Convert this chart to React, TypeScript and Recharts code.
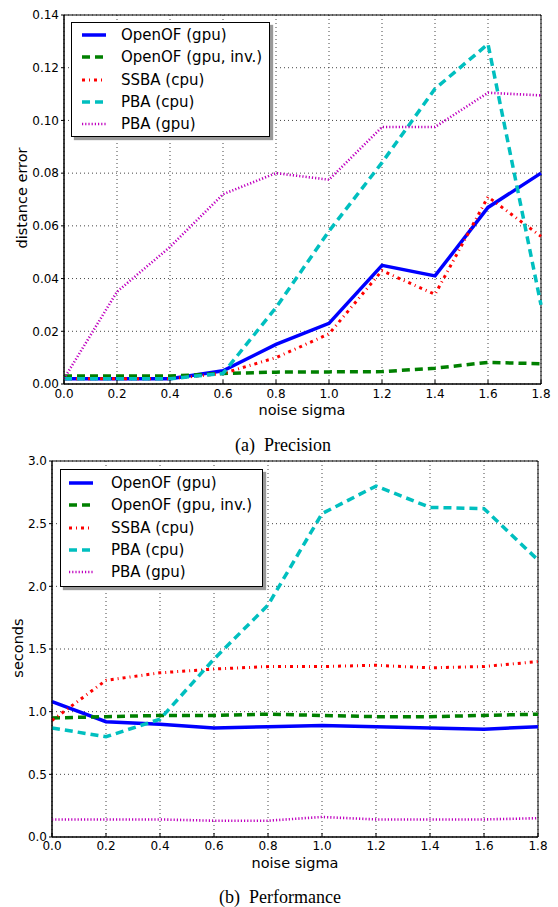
import React from 'react';
import { LineChart, Line, XAxis, YAxis, CartesianGrid, ReferenceArea } from 'recharts';

// noise sigma values shared by both panels
const sigma = [0, 0.2, 0.4, 0.6, 0.8, 1.0, 1.2, 1.4, 1.6, 1.8];

// (a) Precision: distance error
const precOpenOFGpu = [0.002, 0.002, 0.002, 0.005, 0.015, 0.023, 0.045, 0.041, 0.067, 0.08];
const precOpenOFInv = [0.003, 0.003, 0.003, 0.004, 0.0045, 0.0046, 0.0047, 0.006, 0.0082, 0.0077];
const precSSBA = [0.002, 0.002, 0.002, 0.004, 0.01, 0.019, 0.043, 0.034, 0.071, 0.056];
const precPBACpu = [0.002, 0.002, 0.002, 0.004, 0.029, 0.058, 0.084, 0.112, 0.129, 0.03];
const precPBAGpu = [0.002, 0.035, 0.052, 0.072, 0.08, 0.0775, 0.0975, 0.0975, 0.1105, 0.1095];
const precTicks = [0, 0.02, 0.04, 0.06, 0.08, 0.1, 0.12, 0.14];

// (b) Performance: seconds
const perfOpenOFGpu = [1.08, 0.92, 0.9, 0.87, 0.88, 0.89, 0.88, 0.87, 0.86, 0.88];
const perfOpenOFInv = [0.95, 0.96, 0.97, 0.97, 0.98, 0.97, 0.96, 0.96, 0.97, 0.98];
const perfSSBA = [0.93, 1.25, 1.31, 1.34, 1.36, 1.36, 1.37, 1.35, 1.36, 1.4];
const perfPBACpu = [0.87, 0.8, 0.94, 1.42, 1.85, 2.58, 2.8, 2.63, 2.62, 2.21];
const perfPBAGpu = [0.14, 0.14, 0.14, 0.13, 0.13, 0.16, 0.14, 0.14, 0.14, 0.15];
const perfTicks = [0, 0.5, 1.0, 1.5, 2.0, 2.5, 3.0];

const series = [
  { key: 'openofGpu', name: 'OpenOF (gpu)', color: '#0000ff', width: 3.5, dash: undefined },
  { key: 'openofInv', name: 'OpenOF (gpu, inv.)', color: '#008000', width: 3.5, dash: '8 5' },
  { key: 'ssba', name: 'SSBA (cpu)', color: '#ff0000', width: 3, dash: '3 4 1 4' },
  { key: 'pbaCpu', name: 'PBA (cpu)', color: '#00bfbf', width: 3.5, dash: '8 5' },
  { key: 'pbaGpu', name: 'PBA (gpu)', color: '#bf00bf', width: 2.6, dash: '1.2 2' },
];

const precData = sigma.map((s, i) => ({
  sigma: s,
  openofGpu: precOpenOFGpu[i],
  openofInv: precOpenOFInv[i],
  ssba: precSSBA[i],
  pbaCpu: precPBACpu[i],
  pbaGpu: precPBAGpu[i],
}));

const perfData = sigma.map((s, i) => ({
  sigma: s,
  openofGpu: perfOpenOFGpu[i],
  openofInv: perfOpenOFInv[i],
  ssba: perfSSBA[i],
  pbaCpu: perfPBACpu[i],
  pbaGpu: perfPBAGpu[i],
}));

const tickStyle = { fontSize: 12, fill: '#000', fontFamily: 'DejaVu Sans' };

const LegendBox: React.FC<{ left: number; top: number; width: number; height: number; sampleX: number; textX: number; padTop: number }> = ({
  left, top, width, height, sampleX, textX, padTop,
}) => (
  <div
    style={{
      position: 'absolute', left, top, width, height, boxSizing: 'border-box',
      background: '#fff', border: '1px solid #000', boxShadow: '3px 3px 1px #999',
      paddingTop: padTop, fontFamily: 'DejaVu Sans', fontSize: 15, color: '#000',
    }}
  >
    {series.map(s => (
      <div key={s.key} style={{ position: 'relative', height: 22.25 }}>
        <svg width={26} height={22} style={{ position: 'absolute', left: sampleX, top: 0 }}>
          <line x1={0} y1={11} x2={24} y2={11} stroke={s.color} strokeWidth={s.width} strokeDasharray={s.dash} />
        </svg>
        <span style={{ position: 'absolute', left: textX, top: 0, lineHeight: '22px', whiteSpace: 'nowrap' }}>{s.name}</span>
      </div>
    ))}
  </div>
);

const renderLines = () =>
  series.map(s => (
    <Line
      key={s.key}
      type="linear"
      dataKey={s.key}
      name={s.name}
      stroke={s.color}
      strokeWidth={s.width}
      strokeDasharray={s.dash}
      dot={false}
      activeDot={false}
      isAnimationActive={false}
    />
  ));

const App: React.FC = () => {
  return (
    <div style={{ position: 'absolute', left: 0, top: 0, width: 558, height: 907, background: '#fff', overflow: 'hidden' }}>
      <div style={{ position: 'absolute', left: 0, top: 0 }}>
        <LineChart width={558} height={430} data={precData} margin={{ top: 15, right: 17, left: 4, bottom: 16 }}>
          <CartesianGrid stroke="#444" strokeDasharray="1 3" />
          <XAxis
            dataKey="sigma" type="number" domain={[0, 1.8]} ticks={sigma} interval={0}
            tickFormatter={v => v.toFixed(1)} tick={tickStyle} height={30}
            tickSize={-4} tickMargin={9} stroke="#000"
          />
          <YAxis
            type="number" domain={[0, 0.14]} ticks={precTicks} interval={0}
            tickFormatter={v => v.toFixed(2)} tick={tickStyle} width={60}
            tickSize={3} tickMargin={2} stroke="#000"
          />
          <ReferenceArea x1={0} x2={1.8} y1={0} y2={0.14} fill="none" stroke="#000" strokeWidth={1} />
          {renderLines()}
        </LineChart>
      </div>

      <div style={{ position: 'absolute', left: 0, top: 440 }}>
        <LineChart width={558} height={467} data={perfData} margin={{ top: 21, right: 20, left: 4, bottom: 40 }}>
          <CartesianGrid stroke="#444" strokeDasharray="1 3" />
          <XAxis
            dataKey="sigma" type="number" domain={[0, 1.8]} ticks={sigma} interval={0}
            tickFormatter={v => v.toFixed(1)} tick={tickStyle} height={30}
            tickSize={-4} tickMargin={8} stroke="#000"
          />
          <YAxis
            type="number" domain={[0, 3]} ticks={perfTicks} interval={0}
            tickFormatter={v => v.toFixed(1)} tick={tickStyle} width={48}
            tickSize={3} tickMargin={2} stroke="#000"
          />
          <ReferenceArea x1={0} x2={1.8} y1={0} y2={3} fill="none" stroke="#000" strokeWidth={1} />
          {renderLines()}
        </LineChart>
      </div>

      <LegendBox left={71} top={22} width={199} height={115} sampleX={10} textX={49} padTop={1} />
      <LegendBox left={60} top={469} width={203} height={118} sampleX={8} textX={50} padTop={2} />

      <svg width={558} height={907} style={{ position: 'absolute', left: 0, top: 0, pointerEvents: 'none' }}>
        <g fontFamily="DejaVu Sans" fontSize={14.5} fill="#000" textAnchor="middle">
          <text x={302} y={410} dominantBaseline="central">noise sigma</text>
          <text x={295} y={863} dominantBaseline="central">noise sigma</text>
          <text x={22} y={198} dominantBaseline="central" transform="rotate(-90 22 198)">distance error</text>
          <text x={18} y={648} dominantBaseline="central" transform="rotate(-90 18 648)">seconds</text>
        </g>
        <g fontFamily="Liberation Serif" fontSize={18} fill="#000" textAnchor="middle" style={{ whiteSpace: 'pre' }}>
          <text x={283} y={445} dominantBaseline="central" xmlSpace="preserve">(a)  Precision</text>
          <text x={280} y={897} dominantBaseline="central" xmlSpace="preserve">(b)  Performance</text>
        </g>
      </svg>
    </div>
  );
};

export default App;
